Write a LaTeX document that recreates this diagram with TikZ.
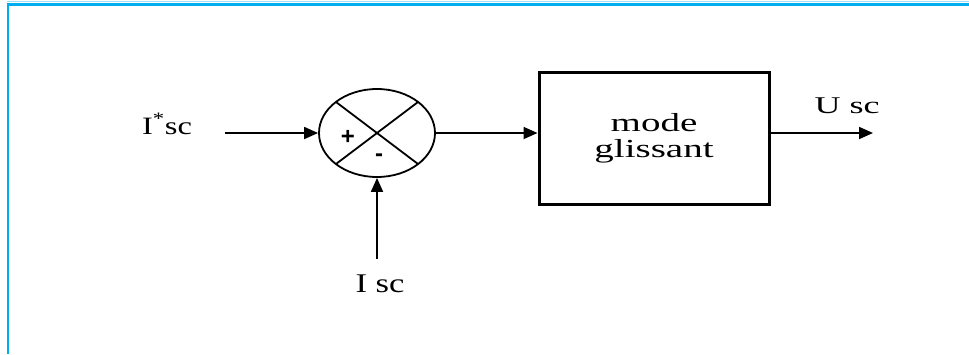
\documentclass[tikz,border=0pt]{standalone}
\usepackage{fontspec}
\usepackage{graphicx}
\setmainfont{Liberation Serif}
\newfontfamily\signfont{Liberation Sans}
\usetikzlibrary{shapes.geometric,arrows.meta,calc}
\definecolor{frameblue}{HTML}{00AEEF}
\begin{document}
\begin{tikzpicture}[x=1pt,y=-1pt,
  lbl/.style={font=\fontsize{25}{30}\selectfont, inner sep=0pt, anchor=base},
  arr/.style={line width=1.8pt, -{Triangle[length=14pt,width=12pt]}},
  sumnode/.style={ellipse, draw, line width=1.8pt, minimum width=116pt, minimum height=88pt, inner sep=0pt},
  blk/.style={draw, line width=3pt, minimum width=230pt, minimum height=132pt, align=center, font=\fontsize{26}{26}\selectfont},
  sign/.style={font=\signfont\bfseries\fontsize{24}{26}\selectfont, inner sep=0pt}]
\useasboundingbox (0,0) rectangle (969,354);
\fill[white] (0,0) rectangle (969,354);
% frame
\draw[frameblue!40, line width=1pt] (7,1.5) -- (969,1.5);
\draw[frameblue, line width=2.5pt] (8,354) -- (8,4.5) -- (969,4.5);
% nodes
\node[sumnode] (s) at (377,133) {};
\node[blk] (box) at (654,138) {\scalebox{1.5}[1]{mode}\\\scalebox{1.5}[1]{glissant}};
\node[lbl] (iref) at (167,134) {\scalebox{1.3}[1]{I\textsuperscript{*}sc}};
\node[lbl, font=\fontsize{27}{30}\selectfont] (imes) at (380,292) {\scalebox{1.28}[1]{I sc}};
\node[lbl, font=\fontsize{24}{30}\selectfont] (uout) at (847,113) {\scalebox{1.5}[1]{U sc}};
\node[sign] (plus) at (348,137) {+};
\node[sign] (minus) at (379,158) {-};
% cross
\coordinate (xa) at ($(s.center)+(-41,-31)$);
\coordinate (xb) at ($(s.center)+(41,31)$);
\coordinate (xc) at ($(s.center)+(41,-31)$);
\coordinate (xd) at ($(s.center)+(-41,31)$);
\draw[line width=1.8pt] (xa) -- (xb);
\draw[line width=1.8pt] (xc) -- (xd);
% connectors
\coordinate (inStart) at (225,133);
\coordinate (outEnd) at (873,133);
\coordinate (fbStart) at (377,259);
\draw[arr] (inStart) -- (s.west);
\draw[arr] (s.east) -- (box.west |- s.east);
\draw[arr] (box.east |- s.east) -- (outEnd);
\draw[arr] (fbStart) -- (s.south);
\end{tikzpicture}
\end{document}
